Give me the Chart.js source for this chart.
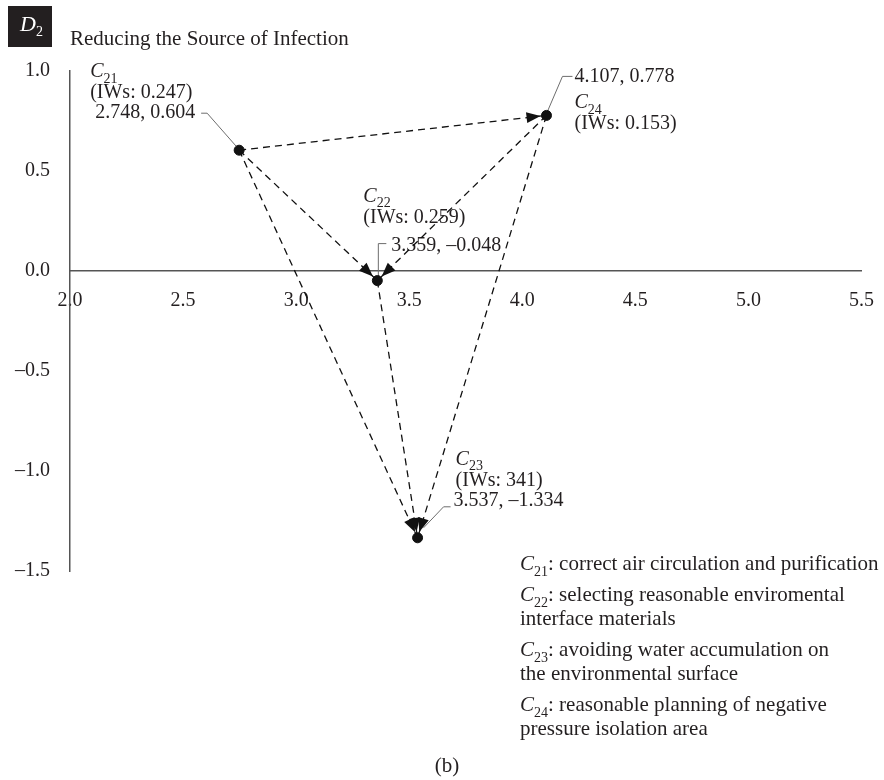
<!DOCTYPE html>
<html>
<head>
<meta charset="utf-8">
<script src="https://cdn.jsdelivr.net/npm/chart.js@4"></script>
<style>
  body { margin: 0; background: #fff; }
  #wrap { width: 884px; height: 780px; position: relative; }
</style>
</head>
<body>
<div id="wrap"><canvas id="chart"></canvas></div>
<script>
// criteria C21..C24
const codes = ['21', '22', '23', '24'];
const xValues = [2.748, 3.359, 3.537, 4.107];
const yValues = [0.604, -0.048, -1.334, 0.778];
const weights = ['0.247', '0.259', '341', '0.153'];

// arrows, by index into the arrays above
const arrowFrom = [0, 0, 0, 3, 3, 1];
const arrowTo = [3, 1, 2, 1, 2, 2];

const xMin = 2.0, xMax = 5.5, yMin = -1.5, yMax = 1.0, tickStep = 0.5;

const groupCode = '2';
const groupTitle = 'Reducing the Source of Infection';
const descriptions = [
  ['correct air circulation and purification'],
  ['selecting reasonable enviromental', 'interface materials'],
  ['avoiding water accumulation on', 'the environmental surface'],
  ['reasonable planning of negative', 'pressure isolation area']
];
const caption = '(b)';

const SERIF = '"Liberation Serif", "DejaVu Serif", serif';
const INK = '#231f20';

const fmt1 = v => (v < 0 ? '\u2013' : '') + Math.abs(v).toFixed(1);
const fmt3 = v => (v < 0 ? '\u2013' : '') + Math.abs(v).toFixed(3);

// label offsets around each point (px)
const labelLayout = [
  { name: [-149, -73], iws: [-149, -52], val: [-144, -32], lead: [[-38, -37], [-32, -37], [-3, -4]] },
  { name: [-14, -79], iws: [-14, -58], val: [14, -30], lead: [[9, -37], [1, -37], [1, -4]] },
  { name: [38, -73], iws: [38, -52], val: [36, -32], lead: [[33, -31], [26, -31], [6, -10]] },
  { name: [28, -7], iws: [28, 14], val: [28, -33], lead: [[26, -39], [16, -39], [1, -4]] }
];

function drawC(ctx, x, y, sub, size, color) {
  ctx.fillStyle = color || INK;
  ctx.textAlign = 'left';
  ctx.textBaseline = 'alphabetic';
  ctx.font = 'italic ' + size + 'px ' + SERIF;
  ctx.fillText('C', x, y);
  const w = ctx.measureText('C').width;
  ctx.font = Math.round(size * 0.68) + 'px ' + SERIF;
  ctx.fillText(sub, x + w, y + size * 0.28);
  return x + w + ctx.measureText(sub).width;
}

const labelsPlugin = {
  id: 'pointLabels',
  beforeDatasetsDraw(chart) {
    const ctx = chart.ctx;
    const xs = chart.scales.x, ys = chart.scales.y;
    ctx.save();
    xValues.forEach((xv, i) => {
      const px = xs.getPixelForValue(xv), py = ys.getPixelForValue(yValues[i]);
      const L = labelLayout[i];
      drawC(ctx, px + L.name[0], py + L.name[1], codes[i], 20);
      ctx.font = '20px ' + SERIF;
      ctx.fillStyle = INK;
      ctx.fillText('(IWs: ' + weights[i] + ')', px + L.iws[0], py + L.iws[1]);
      ctx.fillText(fmt3(xv) + ', ' + fmt3(yValues[i]), px + L.val[0], py + L.val[1]);
      ctx.strokeStyle = '#6d6d6d';
      ctx.lineWidth = 1;
      ctx.setLineDash([]);
      ctx.beginPath();
      L.lead.forEach((p, k) => {
        if (k === 0) ctx.moveTo(px + p[0], py + p[1]);
        else ctx.lineTo(px + p[0], py + p[1]);
      });
      ctx.stroke();
    });
    ctx.restore();
  },
  afterDatasetsDraw(chart) {
    const ctx = chart.ctx;
    const xs = chart.scales.x, ys = chart.scales.y;
    ctx.save();
    ctx.fillStyle = '#111';
    arrowFrom.forEach((a, k) => {
      const b = arrowTo[k];
      const x0 = xs.getPixelForValue(xValues[a]), y0 = ys.getPixelForValue(yValues[a]);
      const x1 = xs.getPixelForValue(xValues[b]), y1 = ys.getPixelForValue(yValues[b]);
      const ang = Math.atan2(y1 - y0, x1 - x0);
      const tx = x1 - Math.cos(ang) * 6, ty = y1 - Math.sin(ang) * 6;
      ctx.save();
      ctx.translate(tx, ty);
      ctx.rotate(ang);
      ctx.beginPath();
      ctx.moveTo(0, 0);
      ctx.lineTo(-14, -5.5);
      ctx.lineTo(-14, 5.5);
      ctx.closePath();
      ctx.fill();
      ctx.restore();
    });
    ctx.restore();
  },
  afterDraw(chart) {
    const ctx = chart.ctx;
    ctx.save();
    // group badge
    ctx.fillStyle = '#231f20';
    ctx.fillRect(8, 6, 44, 41);
    ctx.fillStyle = '#fff';
    ctx.font = 'italic 22px ' + SERIF;
    ctx.textAlign = 'left';
    ctx.textBaseline = 'alphabetic';
    ctx.fillText('D', 20, 31);
    const dw = ctx.measureText('D').width;
    ctx.font = '14px ' + SERIF;
    ctx.fillText(groupCode, 20 + dw, 36);
    // title
    ctx.fillStyle = INK;
    ctx.font = '21px ' + SERIF;
    ctx.fillText(groupTitle, 70, 45);
    // criteria legend
    const lx = 520;
    let y = 570;
    descriptions.forEach((lines, i) => {
      lines.forEach((t, j) => {
        if (j === 0) {
          const ex = drawC(ctx, lx, y, codes[i], 21);
          ctx.font = '21px ' + SERIF;
          ctx.fillStyle = INK;
          ctx.fillText(': ' + t, ex, y);
        } else {
          ctx.font = '21px ' + SERIF;
          ctx.fillStyle = INK;
          ctx.fillText(t, lx, y);
        }
        y += 24;
      });
      y += 7;
    });
    // caption
    ctx.textAlign = 'center';
    ctx.font = '21px ' + SERIF;
    ctx.fillText(caption, 447, 772);
    ctx.restore();
  }
};

const pointData = xValues.map((x, i) => ({ x, y: yValues[i] }));
const arrowSets = arrowFrom.map((a, k) => ({
  type: 'scatter',
  data: [pointData[a], pointData[arrowTo[k]]],
  showLine: true,
  borderColor: '#111',
  borderWidth: 1.3,
  borderDash: [7, 5],
  pointRadius: 0,
  fill: false
}));

new Chart(document.getElementById('chart'), {
  type: 'scatter',
  data: {
    datasets: [
      {
        data: pointData,
        pointRadius: 5,
        pointBackgroundColor: '#111',
        pointBorderColor: '#111',
        showLine: false
      },
      ...arrowSets
    ]
  },
  options: {
    responsive: true,
    maintainAspectRatio: false,
    animation: false,
    layout: { padding: { left: 0, top: 71, right: 16, bottom: 209 } },
    plugins: { legend: { display: false }, tooltip: { enabled: false } },
    scales: {
      x: {
        type: 'linear',
        min: xMin,
        max: xMax,
        position: { y: 0 },
        grid: { display: false },
        border: { display: true, color: '#555', width: 1.5 },
        ticks: {
          stepSize: tickStep,
          padding: 10,
          color: INK,
          font: { family: SERIF, size: 20 },
          callback: v => fmt1(v)
        }
      },
      y: {
        type: 'linear',
        min: yMin,
        max: yMax,
        position: 'left',
        afterFit: s => { s.width = 70; },
        grid: { display: false },
        border: { display: true, color: '#555', width: 1.5 },
        ticks: {
          stepSize: tickStep,
          padding: 12,
          color: INK,
          font: { family: SERIF, size: 20 },
          callback: v => fmt1(v)
        }
      }
    }
  },
  plugins: [labelsPlugin]
});
</script>
</body>
</html>
